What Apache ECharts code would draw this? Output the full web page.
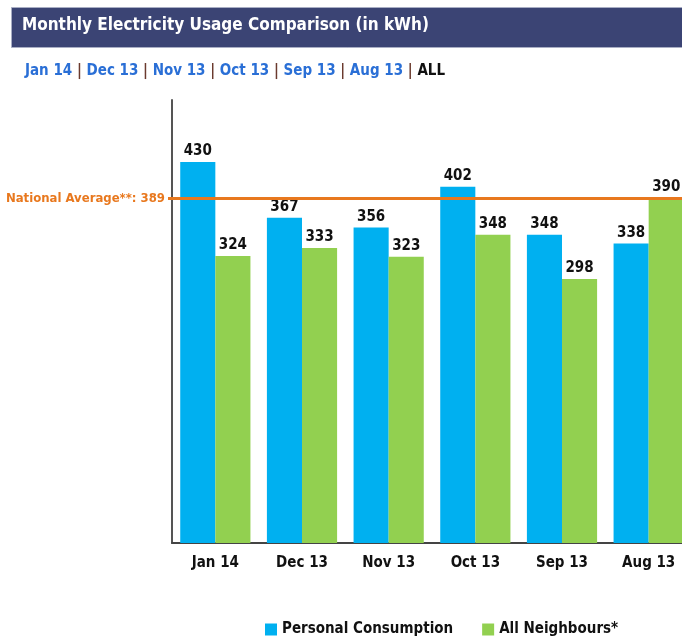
<!DOCTYPE html>
<html>
<head>
<meta charset="utf-8">
<script src="https://cdn.jsdelivr.net/npm/echarts@6/dist/echarts.min.js"></script>
<style>
  html, body { margin: 0; padding: 0; background: #fff; }
  #main { width: 682px; height: 639px; }
</style>
</head>
<body>
<div id="main"></div>
<script>
// ----------------데이터----------------
const months = ["Jan 14", "Dec 13", "Nov 13", "Oct 13", "Sep 13", "Aug 13"];
const personal = [430, 367, 356, 402, 348, 338];
const neighbours = [324, 333, 323, 348, 298, 390];
const nationalAverage = 389;
const linkLabels = ["Jan 14", "Dec 13", "Nov 13", "Oct 13", "Sep 13", "Aug 13"];

const FONT = '"Liberation Sans Narrow", "DejaVu Sans Condensed", Arial, sans-serif';

// 상단 링크줄 (rich text)
let linkText = linkLabels.map((m) => "{l|" + m + "}").join("{s| | }") + "{s| | }{a|ALL}";

let chartDom = document.getElementById("main");
let myChart = echarts.init(chartDom);
let option;

option = {
  animation: false,
  textStyle: { fontFamily: FONT },
  graphic: [
    {
      type: "rect",
      left: 11,
      top: 7,
      shape: { width: 680, height: 40 },
      style: { fill: "#3b4474", stroke: "#a9aec4", lineWidth: 1 },
    },
    {
      type: "text",
      left: 22,
      top: 17,
      style: {
        text: "Monthly Electricity Usage Comparison (in kWh)",
        fill: "#fff",
        font: "bold 17px " + FONT,
      },
    },
    {
      type: "text",
      left: 25,
      top: 64,
      style: {
        text: linkText,
        rich: {
          l: { fill: "#2a6fd6", font: "bold 15px " + FONT },
          s: { fill: "#6b3a2e", font: "bold 15px " + FONT },
          a: { fill: "#111", font: "bold 15px " + FONT },
        },
      },
    },
  ],
  legend: {
    top: 617,
    left: 260,
    itemWidth: 12,
    itemHeight: 12,
    itemGap: 29,
    icon: "rect",
    textStyle: { fontSize: 15, fontWeight: "bold", color: "#111", fontFamily: FONT },
    data: ["Personal Consumption", "All Neighbours*"],
  },
  grid: {
    left: 172,
    top: 100,
    width: 520,
    height: 443,
    outerBoundsMode: "none",
  },
  xAxis: {
    type: "category",
    data: months,
    axisLine: { lineStyle: { color: "#444", width: 2 } },
    axisTick: { show: false },
    axisLabel: {
      margin: 13,
      fontSize: 15,
      fontWeight: "bold",
      color: "#111",
      fontFamily: FONT,
    },
  },
  yAxis: {
    type: "value",
    min: 0,
    max: 500,
    axisLine: { show: true, lineStyle: { color: "#555", width: 2 } },
    axisTick: { show: false },
    axisLabel: { show: false },
    splitLine: { show: false },
  },
  series: [
    {
      name: "Personal Consumption",
      type: "bar",
      data: personal,
      barGap: "0%",
      barCategoryGap: "19%",
      itemStyle: { color: "#00b0f0" },
      label: {
        show: true,
        position: "top",
        distance: 3,
        fontSize: 15,
        fontWeight: "bold",
        color: "#111",
        fontFamily: FONT,
      },
      markLine: {
        silent: true,
        symbol: "none",
        lineStyle: { color: "#e8781e", width: 3, type: "solid" },
        label: {
          position: "start",
          formatter: "National Average**: {c}",
          color: "#e8781e",
          fontSize: 13,
          fontWeight: "bold",
          fontFamily: FONT,
          distance: 3,
        },
        data: [{ yAxis: nationalAverage, x: 168 }],
      },
    },
    {
      name: "All Neighbours*",
      type: "bar",
      data: neighbours,
      itemStyle: { color: "#92d050" },
      label: {
        show: true,
        position: "top",
        distance: 3,
        fontSize: 15,
        fontWeight: "bold",
        color: "#111",
        fontFamily: FONT,
      },
    },
  ],
};
myChart.setOption(option);

window.onresize = function () {
  myChart.resize();
};
</script>
</body>
</html>
